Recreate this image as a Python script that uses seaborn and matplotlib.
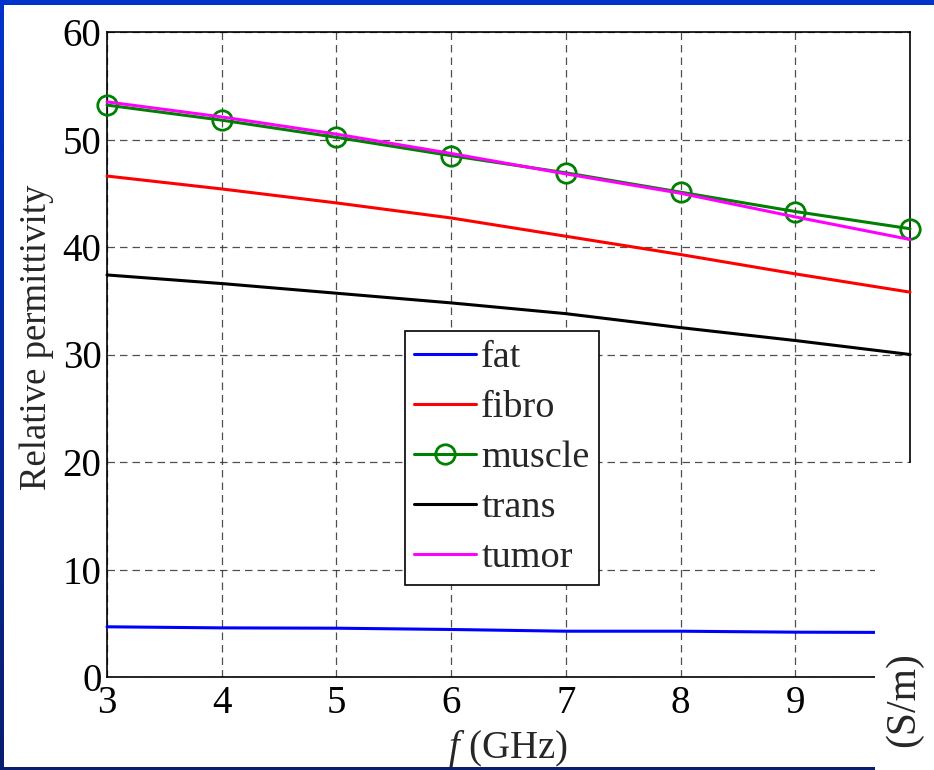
import numpy as np
import pandas as pd
import matplotlib
matplotlib.use("Agg")
import matplotlib.pyplot as plt
from matplotlib.lines import Line2D
from matplotlib.patches import Rectangle
import seaborn as sns

# ---- data ----
freq = [3, 4, 5, 6, 7, 8, 9, 10]
fat = [4.67, 4.57, 4.54, 4.42, 4.26, 4.26, 4.17, 4.14]
fibro = [46.6, 45.4, 44.1, 42.7, 41.0, 39.3, 37.5, 35.8]
muscle = [53.2, 51.8, 50.2, 48.5, 46.9, 45.1, 43.3, 41.7]
trans = [37.4, 36.6, 35.7, 34.8, 33.8, 32.5, 31.3, 30.0]
tumor = [53.5, 52.1, 50.5, 48.7, 46.8, 45.0, 42.8, 40.7]
series_names = ["fat", "fibro", "muscle", "trans", "tumor"]
series_colors = ["#0000FF", "#FF0000", "#008000", "#000000", "#FF00FF"]
xticks = [3, 4, 5, 6, 7, 8, 9, 10]
xticklabels = ["3", "4", "5", "6", "7", "8", "9", ""]
yticks = [0, 10, 20, 30, 40, 50, 60]

df = pd.DataFrame({"f": freq * 5,
                   "eps": fat + fibro + muscle + trans + tumor,
                   "tissue": sum([[n] * len(freq) for n in series_names], [])})

sns.set_style("white")
plt.rcParams["font.family"] = ["Liberation Serif", "DejaVu Serif"]
plt.rcParams["mathtext.fontset"] = "custom"
plt.rcParams["mathtext.rm"] = "Liberation Serif"
plt.rcParams["mathtext.it"] = "Liberation Serif:italic"

W, H = 934, 770
fig = plt.figure(figsize=(W / 100, H / 100), dpi=100)

# slide background (blue gradient) + white page
bg = fig.add_axes([0, 0, 1, 1], zorder=-10)
grad = np.linspace(0, 1, 256)[:, None, None]
top = np.array([0, 51, 204]) / 255
bot = np.array([10, 30, 110]) / 255
img = top * (1 - grad) + bot * grad
bg.imshow(np.repeat(img, 2, axis=1), aspect="auto", extent=[0, 1, 0, 1])
bg.set_axis_off()
fig.add_artist(Rectangle((4 / W, 3 / H), 1 - 4 / W, (H - 5 - 3) / H,
                         transform=fig.transFigure, facecolor="white",
                         edgecolor="none", zorder=-5))

ax = fig.add_axes([107 / W, 1 - 677 / H, (910 - 107) / W, (677 - 32) / H])
ax.set_facecolor("white")

lw = 2.2
for name, col in zip(series_names, series_colors):
    sub = df[df["tissue"] == name]
    kw = dict(color=col, lw=lw)
    if name == "muscle":
        kw.update(marker="o", markersize=14, markerfacecolor="none",
                  markeredgecolor=col, markeredgewidth=2.0)
    sns.lineplot(data=sub, x="f", y="eps", ax=ax, legend=False,
                 clip_on=False, zorder=3, **kw)

ax.set_xlim(3, 10)
ax.set_ylim(0, 60)
ax.set_xticks(xticks)
ax.set_xticklabels(xticklabels)
ax.set_yticks(yticks)
ax.tick_params(direction="in", length=6, width=1, labelsize=28, colors="black",
               top=False, right=False)
ax.tick_params(axis="x", pad=6)
ax.tick_params(axis="y", pad=4)
ax.grid(True, color="#303030", lw=0.9, linestyle=(0, (6, 4)), alpha=0.85)
for s in ax.spines.values():
    s.set_color("black")
    s.set_linewidth(1.2)
    s.set_visible(True)

ax.set_ylabel("Relative permittivity", fontsize=26.5)
ax.yaxis.set_label_coords(-0.066, 0.527)
ax.set_xlabel(r"$\mathit{f}$ (GHz)", fontsize=28, labelpad=4)

handles = []
for name, col in zip(series_names, series_colors):
    if name == "muscle":
        h = Line2D([], [], color=col, lw=lw, marker="o", markersize=14,
                   markerfacecolor="none", markeredgewidth=2.0)
    else:
        h = Line2D([], [], color=col, lw=lw)
    handles.append(h)
leg = ax.legend(handles, series_names, loc="lower left",
                bbox_to_anchor=(0.371, 0.143), fontsize=27.5, frameon=True,
                fancybox=False, shadow=False, handlelength=1.6,
                handletextpad=0.15, labelspacing=0.4, borderpad=0.25,
                borderaxespad=0)
leg.get_frame().set_edgecolor("black")
leg.get_frame().set_linewidth(1.2)
leg.get_frame().set_alpha(1)
leg.set_zorder(5)

# overlapping neighbouring figure (bottom-right white panel)
fig.add_artist(Rectangle((875 / W, 0), 1 - 875 / W, (H - 463) / H,
                         transform=fig.transFigure, facecolor="white",
                         edgecolor="none", zorder=20))
fig.text(904 / W, 1 - 652 / H, "(S/m)", rotation=90,
         ha="center", va="top", fontsize=30, zorder=21)

fig.savefig("out.png", dpi=100)
